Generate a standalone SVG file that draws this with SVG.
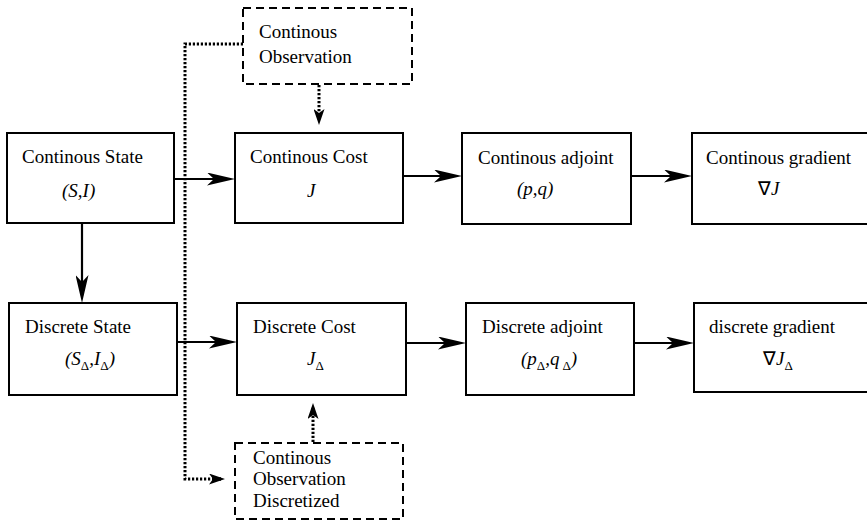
<svg xmlns="http://www.w3.org/2000/svg" width="867" height="523" viewBox="0 0 867 523">
<style>
  .box { fill: #fff; stroke: #000; stroke-width: 2; }
  .dbox { fill: #fff; stroke: #000; stroke-width: 2; stroke-dasharray: 8 5; }
  .t { font-family: "Liberation Serif", "Times New Roman", serif; font-size: 19px; fill: #000; }
  .m { font-family: "Liberation Serif", "Times New Roman", serif; font-size: 19px; font-style: italic; fill: #000; }
  .s { font-size: 13px; font-style: normal; }
  .arr { fill: none; stroke: #000; stroke-width: 2.2; marker-end: url(#ah); }
  .dot { fill: none; stroke: #000; stroke-width: 3; stroke-dasharray: 2.2 1.8; }
  .dotarr { fill: none; stroke: #000; stroke-width: 3; stroke-dasharray: 2.2 1.8; marker-end: url(#dh); }
</style>
<defs>
  <marker id="ah" markerUnits="userSpaceOnUse" viewBox="0 0 28 13" refX="21" refY="6.5" markerWidth="28" markerHeight="13" orient="auto">
    <path d="M0,0 L28,6.5 L0,13 L7,6.5 Z" fill="#000"/>
  </marker>
  <marker id="dh" markerUnits="userSpaceOnUse" viewBox="0 0 16 11" refX="12" refY="5.5" markerWidth="16" markerHeight="11" orient="auto">
    <path d="M0,0 L16,5.5 L0,11 L4,5.5 Z" fill="#000"/>
  </marker>
</defs>
<rect width="867" height="523" fill="#fff"/>

<g id="connectors">
  <polyline class="dot" points="243,44 185,44 185,479 221,479"/>
  <line class="dotarr" x1="219" y1="479" x2="221" y2="479"/>
  <line class="dotarr" x1="319" y1="85" x2="319" y2="121"/>
  <line class="dotarr" x1="313" y1="442" x2="313" y2="407"/>
  <line class="arr" x1="175" y1="179" x2="228" y2="179"/>
  <line class="arr" x1="404" y1="176" x2="455" y2="176"/>
  <line class="arr" x1="632" y1="176" x2="685" y2="176"/>
  <line class="arr" x1="82" y1="224" x2="82" y2="296"/>
  <line class="arr" x1="178" y1="342" x2="230" y2="342"/>
  <line class="arr" x1="407" y1="343" x2="459" y2="343"/>
  <line class="arr" x1="635" y1="343" x2="687" y2="343"/>
</g>

<g id="obs">
  <rect class="dbox" x="243" y="8" width="169" height="76"/>
  <text class="t" x="259" y="38">Continous</text>
  <text class="t" x="259" y="63">Observation</text>
</g>

<g id="cstate">
  <rect class="box" x="7" y="133" width="167" height="90"/>
  <text class="t" x="22" y="163">Continous State</text>
  <text class="m" x="62" y="197">(S,I)</text>
</g>

<g id="ccost">
  <rect class="box" x="235" y="133" width="168" height="90"/>
  <text class="t" x="250" y="163">Continous Cost</text>
  <text class="m" x="307" y="197">J</text>
</g>

<g id="cadj">
  <rect class="box" x="462" y="133" width="169" height="91"/>
  <text class="t" x="478" y="164">Continous adjoint</text>
  <text class="m" x="517" y="195">(p,q)</text>
</g>

<g id="cgrad">
  <rect class="box" x="692" y="133" width="180" height="91"/>
  <text class="t" x="706" y="164">Continous gradient</text>
  <text class="m" x="758" y="195"><tspan font-style="normal">∇</tspan>J</text>
</g>

<g id="dstate">
  <rect class="box" x="9" y="303" width="168" height="92"/>
  <text class="t" x="25" y="333">Discrete State</text>
  <text class="m" x="65" y="365">(S<tspan class="s" dy="5">Δ</tspan><tspan dy="-5">,I</tspan><tspan class="s" dy="5">Δ</tspan><tspan dy="-5">)</tspan></text>
</g>

<g id="dcost">
  <rect class="box" x="237" y="303" width="169" height="92"/>
  <text class="t" x="253" y="333">Discrete Cost</text>
  <text class="m" x="307" y="365">J<tspan class="s" dy="5">Δ</tspan></text>
</g>

<g id="dadj">
  <rect class="box" x="466" y="303" width="168" height="92"/>
  <text class="t" x="482" y="333">Discrete adjoint</text>
  <text class="m" x="521" y="365">(p<tspan class="s" dy="5">Δ</tspan><tspan dy="-5">,q</tspan><tspan class="s" dy="5" dx="3">Δ</tspan><tspan dy="-5">)</tspan></text>
</g>

<g id="dgrad">
  <rect class="box" x="694" y="303" width="180" height="89"/>
  <text class="t" x="709" y="333">discrete gradient</text>
  <text class="m" x="763" y="365"><tspan font-style="normal">∇</tspan>J<tspan class="s" dy="5">Δ</tspan></text>
</g>

<g id="obsd">
  <rect class="dbox" x="235" y="443" width="168" height="76"/>
  <text class="t" x="253" y="464">Continous</text>
  <text class="t" x="253" y="485">Observation</text>
  <text class="t" x="253" y="507">Discretized</text>
</g>
</svg>
